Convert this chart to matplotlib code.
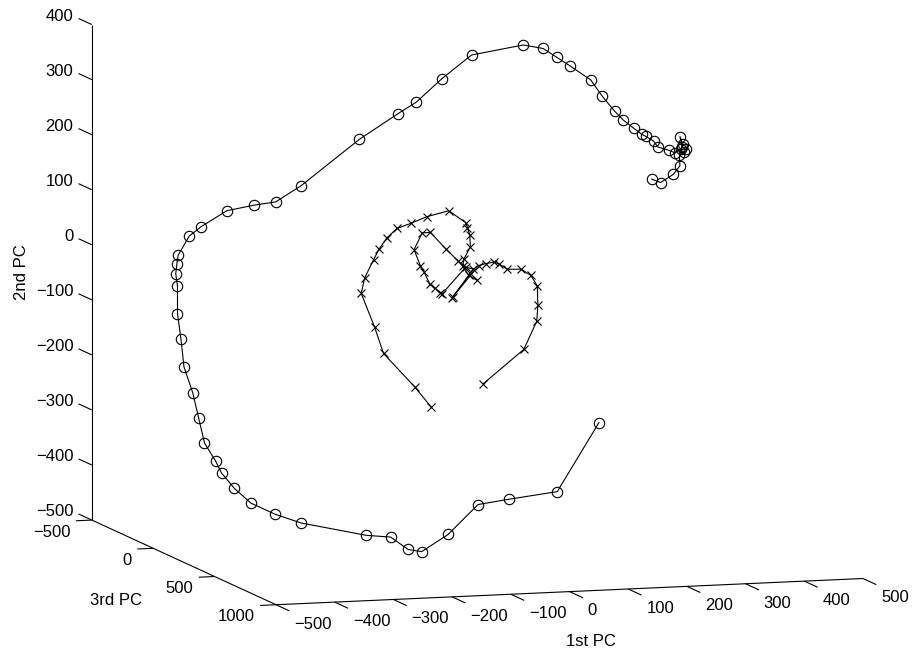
import numpy as np
import matplotlib
matplotlib.use("Agg")
import matplotlib.pyplot as plt
from mpl_toolkits.mplot3d import proj3d

plt.rcParams['font.family'] = ['Liberation Sans', 'DejaVu Sans']

# ---------------- data (1st PC = x, 3rd PC = y, 2nd PC = z) ----------------
circle_x = [228, 157, 74, 22, -29, -74, -97, -127, -168, -280, -324, -365, -393,
            -415, -425, -444, -454, -464, -479, -484, -490, -490, -493, -491, -489,
            -470, -450, -406, -359, -323, -280, -180, -115, -83, -40, 11, 99, 133,
            156, 179, 214, 234, 255, 269, 287, 301, 308, 321, 328, 347, 357, 368,
            371, 366, 370, 376, 373, 365, 366, 355, 333, 318]
circle_z = [-291, -413, -423, -430, -482, -511, -506, -482, -477, -449, -431, -409,
            -381, -352, -330, -296, -250, -204, -156, -106, -59, -9, 14, 32, 47,
            81, 97, 124, 132, 136, 163, 243, 286, 306, 346, 387, 401, 393, 376, 359,
            332, 301, 273, 257, 241, 229, 225, 216, 205, 198, 193, 199, 208, 222,
            202, 198, 194, 188, 169, 154, 140, 147]

cross_x = [-58, -86, -139, -154, -177, -171, -156, -146, -133, -116, -93, -65, -28,
           1, 4, 8, 9, -2, -4, 6, 21, -12, -33, -59, -73, -87, -76, -70, -60, -52,
           -43, -39, 1, 14, -22, -21, 23, 35, 49, 58, 72, 95, 112, 123, 124, 122,
           100, 31]
cross_z = [-249, -211, -148, -100, -37, -9, 23, 43, 62, 78, 86, 97, 106, 83, 74,
           60, 39, 17, 4, -13, -23, 14, 37, 68, 68, 38, 8, -3, -26, -33, -42, -44,
           2, -2, -52, -51, 4, 7, 9, 5, -5, -6, -18, -38, -73, -102, -152, -211]
depth_3rd_pc = 150  # assumed constant 3rd-PC value (depth not readable from the view)

x_ticks = [-500, -400, -300, -200, -100, 0, 100, 200, 300, 400, 500]
y_ticks = [-500, 0, 500, 1000]
z_ticks = [-500, -400, -300, -200, -100, 0, 100, 200, 300, 400]
x_label, y_label, z_label = "1st PC", "3rd PC", "2nd PC"

XLIM, YLIM, ZLIM = (-500, 500), (-500, 1000), (-500, 400)

# ---------------- figure ----------------
W, H = 915, 656
fig = plt.figure(figsize=(W / 100, H / 100), dpi=100)
ax = fig.add_axes([0, 0, 1, 1], projection='3d', proj_type='ortho')
ax.set_xlim(*XLIM)
ax.set_ylim(*YLIM)
ax.set_zlim(*ZLIM)
ax.set_box_aspect((614, 618, 500))
ax.view_init(elev=-8.24, azim=-72.68)
ax.set_axis_off()


def to_display(pts):
    pts = np.asarray(pts, float)
    xs, ys, _ = proj3d.proj_transform(pts[:, 0], pts[:, 1], pts[:, 2], ax.get_proj())
    return ax.transData.transform(np.column_stack([xs, ys]))


# calibrate the axes placement so the box corners land where the reference has them
fig.canvas.draw()
corners = np.array([[-500, -500, -500], [-500, 1000, -500],
                    [500, 1000, -500], [-500, -500, 300]], float)
targets = np.array([[91.7, 520.5], [276.5, 604.8], [862.7, 578.3], [91.7, 79.3]])
targets[:, 1] = H - targets[:, 1]
u = ax.transAxes.inverted().transform(to_display(corners))
A, b = [], []
for (ux, uy), (tx, ty) in zip(u, targets):
    A.append([1, 0, ux]); b.append(tx)
    A.append([0, 1, uy]); b.append(ty)
ox, oy, S = np.linalg.lstsq(np.array(A), np.array(b), rcond=None)[0]
ax.set_position([ox / W, oy / H, S / W, S / H])
fig.canvas.draw()

# ---------------- axes lines, ticks (MATLAB style) ----------------
lk = dict(color='black', lw=0.8, solid_capstyle='butt')
ax.plot([-500, -500], [-500, -500], [-500, 400], **lk)
ax.plot([-500, -500], [-500, 1000], [-500, -500], **lk)
ax.plot([-500, 500], [1000, 1000], [-500, -500], **lk)
for z in z_ticks:
    ax.plot([-500, -500], [-500, -608], [z, z], **lk)
for y in y_ticks:
    ax.plot([-500, -527], [y, y], [-500, -500], **lk)
for x in x_ticks:
    ax.plot([x, x], [1000, 1109], [-500, -500], **lk)


def fmt(v):
    return str(v).replace('-', '\u2212')


def label_at(pt, s, **kw):
    d = to_display([pt])[0]
    fx, fy = fig.transFigure.inverted().transform(d)
    fig.text(fx, fy, s, **kw)


fs = 12
for z in z_ticks:
    label_at((-500, -650, z), fmt(z), ha='right', va='center', fontsize=fs)
for y in y_ticks:
    label_at((-536, y, -520), fmt(y), ha='right', va='center', fontsize=fs)
for x in x_ticks:
    label_at((x, 1147, -520), fmt(x), ha='left', va='center', fontsize=fs)

fig.text(21 / W, 1 - 272 / H, z_label, rotation=90, ha='center', va='center', fontsize=fs)
fig.text(116 / W, 1 - 600.7 / H, y_label, ha='center', va='center', fontsize=fs)
fig.text(590.5 / W, 1 - 641.7 / H, x_label, ha='center', va='center', fontsize=fs)

# ---------------- data curves ----------------
ax.plot(circle_x, np.full(len(circle_x), depth_3rd_pc), circle_z, color='black',
        lw=0.8, marker='o', markersize=7.5, markerfacecolor='none',
        markeredgecolor='black', markeredgewidth=0.8)
ax.plot(cross_x, np.full(len(cross_x), depth_3rd_pc), cross_z, color='black',
        lw=0.8, marker='x', markersize=6, markeredgewidth=0.8)

fig.savefig("out.png", dpi=100)
